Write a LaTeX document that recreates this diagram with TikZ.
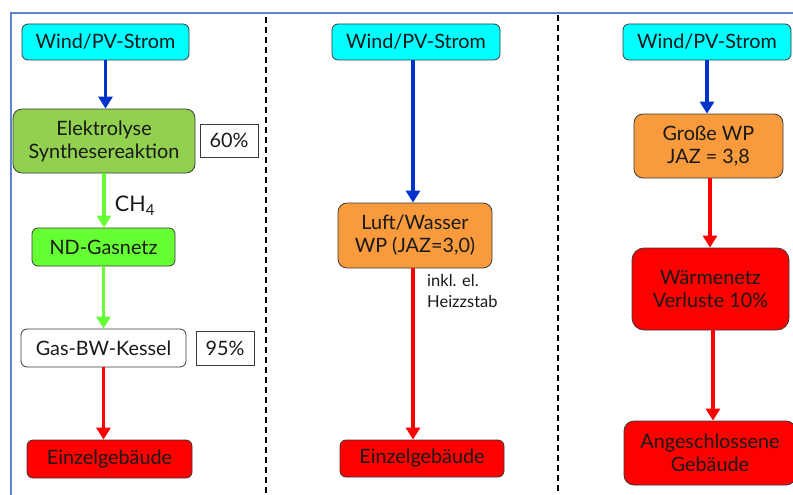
\documentclass[tikz,border=0pt]{standalone}
\usepackage{fontspec}
\setmainfont{Lato}
\usetikzlibrary{arrows.meta}
\definecolor{cyanbox}{HTML}{00FFFF}
\definecolor{greenbox}{HTML}{92D050}
\definecolor{lightgreen}{HTML}{66FF33}
\definecolor{orangebox}{HTML}{F99B3C}
\definecolor{redbox}{HTML}{FF0000}
\definecolor{bluearrow}{HTML}{0033CC}
\definecolor{framecol}{HTML}{5B86D0}
\definecolor{edgecol}{HTML}{3A3A3A}
\tikzset{
  box/.style={draw=edgecol, line width=0.8pt, rounded corners=6pt, align=center,
    font=\fontsize{19.8}{23}\selectfont, inner sep=0pt, text=black!90},
  pbox/.style={draw=edgecol, line width=0.8pt, align=center,
    font=\fontsize{19.8}{23}\selectfont, inner sep=0pt, fill=white, text=black!90},
  flow/.style={line width=3.6pt, -{Triangle[width=14pt,length=12pt]}},
  sep/.style={line width=1.5pt, dash pattern=on 6pt off 4pt},
}
\begin{document}
\begin{tikzpicture}[x=1pt,y=-1pt]
\useasboundingbox (0,0) rectangle (793,495);
% frame
\draw[framecol, line width=1.5pt] (11,495) -- (11,13) -- (793,13);
% separators
\coordinate (s1t) at (266,17); \coordinate (s1b) at (266,495);
\coordinate (s2t) at (558,15); \coordinate (s2b) at (558,495);
\draw[sep] (s1t) -- (s1b);
\draw[sep] (s2t) -- (s2b);
% left column
\node[box, fill=cyanbox, minimum width=167pt, minimum height=36pt] (w1) at (105.5,42) {Wind/PV-Strom};
\node[box, fill=greenbox, minimum width=182pt, minimum height=64pt, rounded corners=9pt] (el) at (104,141) {Elektrolyse\\Synthesereaktion};
\node[pbox, minimum width=58pt, minimum height=33pt] (p60) at (229,140.5) {60\%};
\node[box, fill=lightgreen, minimum width=143pt, minimum height=38pt] (nd) at (103.5,247) {ND-Gasnetz};
\node[box, fill=white, minimum width=165pt, minimum height=38pt] (gk) at (103.5,348) {Gas-BW-Kessel};
\node[pbox, minimum width=58pt, minimum height=34pt] (p95) at (225,348) {95\%};
\node[box, fill=redbox, minimum width=165pt, minimum height=38pt] (e1) at (109.5,459) {Einzelgebäude};
\node[font=\fontsize{21.5}{23}\selectfont, text=black!90] (ch4) at (135,206) {CH\textsubscript{4}};
\draw[flow, bluearrow] (w1.south) -- (w1.south |- el.north);
\draw[flow, lightgreen] (el.south) -- (el.south |- nd.north);
\draw[flow, lightgreen] (nd.south) -- (nd.south |- gk.north);
\draw[flow, redbox] (gk.south) -- (gk.south |- e1.north);
% middle column
\node[box, fill=cyanbox, minimum width=168pt, minimum height=36pt] (w2) at (416,42) {Wind/PV-Strom};
\node[box, fill=orangebox, minimum width=154pt, minimum height=65pt, rounded corners=9pt] (lw) at (415,235.5) {Luft/Wasser\\WP (JAZ=3,0)};
\node[box, fill=redbox, minimum width=164pt, minimum height=37pt] (e2) at (422,458.5) {Einzelgebäude};
\node[font=\fontsize{16.5}{21}\selectfont, align=left, anchor=north west, inner sep=0pt, text=black!90] (ink) at (427,274) {inkl. el.\\Heizzstab};
\draw[flow, bluearrow] (w2.south -| 413,0) -- (lw.north -| 413,0);
\draw[flow, redbox] (lw.south -| 413,0) -- (e2.north -| 413,0);
% right column
\node[box, fill=cyanbox, minimum width=168pt, minimum height=36pt] (w3) at (707,42) {Wind/PV-Strom};
\node[box, fill=orangebox, minimum width=149pt, minimum height=64pt, rounded corners=9pt] (gw) at (708.5,146) {Große WP\\JAZ = 3,8};
\node[box, fill=redbox, minimum width=157pt, minimum height=82pt, rounded corners=12pt] (wn) at (710.5,289) {Wärmenetz\\Verluste 10\%};
\node[box, fill=redbox, minimum width=172pt, minimum height=64pt, rounded corners=10pt] (ag) at (710,453) {Angeschlossene\\Gebäude};
\draw[flow, bluearrow] (w3.south) -- (w3.south |- gw.north);
\draw[flow, redbox] (gw.south -| 710,0) -- (wn.north -| 710,0);
\draw[flow, redbox] (wn.south -| 713,0) -- (ag.north -| 713,0);
\end{tikzpicture}
\end{document}
